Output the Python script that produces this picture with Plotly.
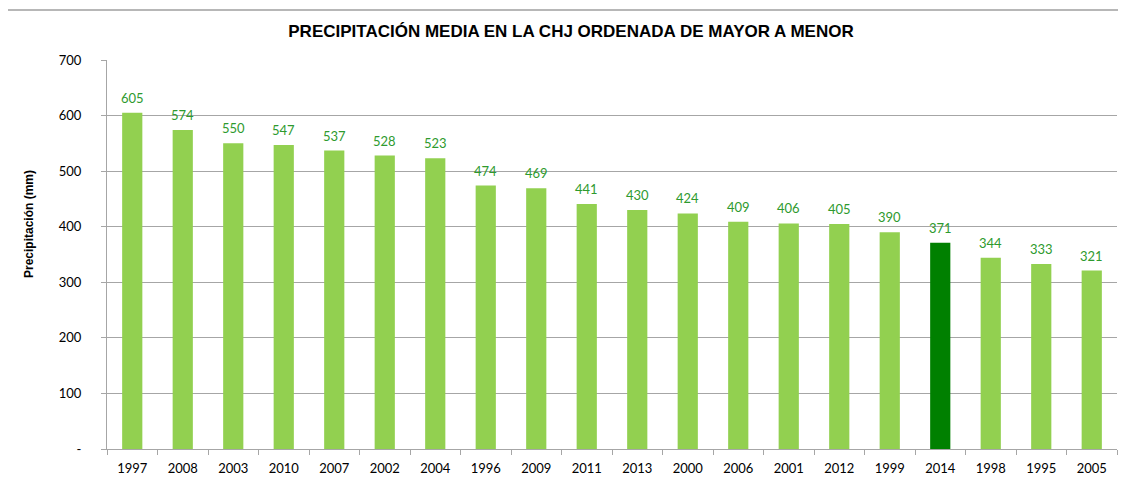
import plotly.graph_objects as go

years = ["1997", "2008", "2003", "2010", "2007", "2002", "2004", "1996", "2009", "2011",
         "2013", "2000", "2006", "2001", "2012", "1999", "2014", "1998", "1995", "2005"]
precip = [605, 574, 550, 547, 537, 528, 523, 474, 469, 441,
          430, 424, 409, 406, 405, 390, 371, 344, 333, 321]
highlight_year = "2014"
ytick_vals = [0, 100, 200, 300, 400, 500, 600, 700]
ytick_text = ["-", "100", "200", "300", "400", "500", "600", "700"]

LIGHT = "#92D050"
DARK = "#008000"
LABEL = "#2E9A2E"
GRID = "#A6A6A6"
TICKFONT = dict(family="Lato, Open Sans, sans-serif", size=13, color="black")

colors = [DARK if y == highlight_year else LIGHT for y in years]

fig = go.Figure()
fig.add_trace(go.Bar(
    x=years, y=precip,
    marker=dict(color=colors, line=dict(width=0)),
    hoverinfo="x+y",
))

for i, v in enumerate(precip):
    fig.add_annotation(x=i, y=v, text=str(v), showarrow=False,
                       xref="x", yref="y",
                       yanchor="bottom", yshift=5,
                       font=dict(family="Lato, Open Sans, sans-serif", size=13, color=LABEL))

# page has an 8px body margin; target pixel positions are in window coords
OFF = 8
W, H = 1126 - OFF, 484 - OFF
plot_left, plot_right, plot_top, plot_bottom = 107, 1117, 60, 449
L = plot_left - OFF
T = plot_top - OFF
R = (OFF + W) - plot_right
B = (OFF + H) - plot_bottom
pw, ph = plot_right - plot_left, plot_bottom - plot_top

def px_x(x):
    return (x - plot_left) / pw

def px_y(y):
    return (plot_bottom - y) / ph

fig.add_shape(type="rect", xref="paper", yref="paper",
              x0=px_x(7), x1=1.2, y0=-0.3, y1=px_y(10),
              line=dict(color="#A0A0A0", width=1.5), layer="below")

fig.add_annotation(text="<b>Precipitación (mm)</b>", xref="paper", yref="paper",
                   x=px_x(29), y=px_y(224), xanchor="center", yanchor="middle",
                   textangle=-90, showarrow=False,
                   font=dict(family="Liberation Sans, Arial, sans-serif", size=12, color="black"))

fig.update_layout(
    width=W, height=H,
    margin=dict(l=L, r=R, t=T, b=B, autoexpand=False),
    paper_bgcolor="white", plot_bgcolor="white",
    bargap=0.6,
    showlegend=False,
    title=dict(text="<b>PRECIPITACIÓN MEDIA EN LA CHJ ORDENADA DE MAYOR A MENOR</b>",
               x=(571 - OFF) / W, xanchor="center", y=1 - (31 - OFF) / H, yanchor="middle",
               font=dict(family="Liberation Sans, Arial, sans-serif", size=17, color="black")),
    xaxis=dict(
        type="category", range=[-0.5, len(years) - 0.5],
        showgrid=False,
        showline=True, linecolor=GRID, linewidth=1,
        ticks="outside", ticklen=5, tickcolor=GRID, tickson="boundaries",
        tickangle=0, ticklabelstandoff=7,
        tickfont=TICKFONT,
    ),
    yaxis=dict(
        range=[0, 700], tickvals=ytick_vals, ticktext=ytick_text,
        showgrid=True, gridcolor=GRID, gridwidth=1,
        showline=True, linecolor=GRID, linewidth=1,
        ticks="outside", ticklen=5, tickcolor=GRID,
        ticklabelstandoff=17,
        zeroline=False,
        tickfont=TICKFONT,
    ),
)

fig.write_html("out.html")
